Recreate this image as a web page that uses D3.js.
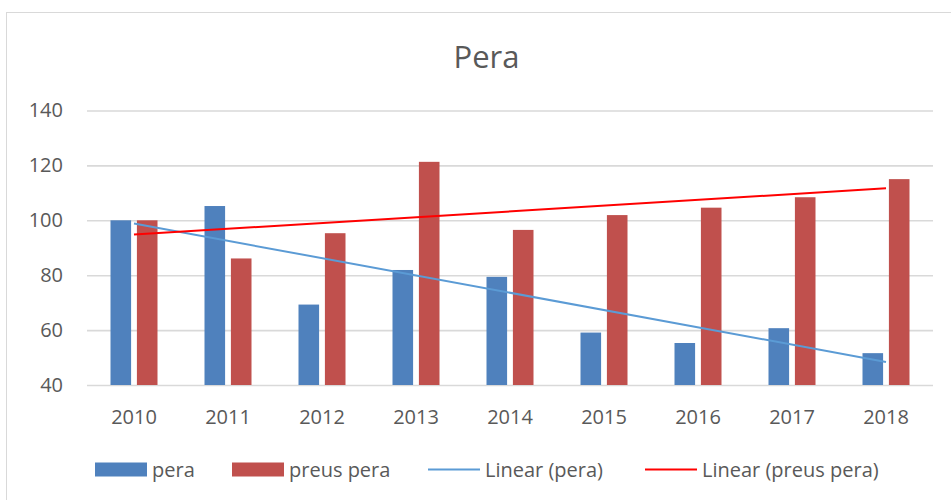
<!DOCTYPE html>
<head>
  <meta charset="utf-8">
  <script src="https://d3js.org/d3.v7.min.js"></script>
  <style>
    body { margin:0; background:#fff; }
    text { font-family: "Open Sans", sans-serif; fill:#595959; }
  </style>
</head>
<body>
<script>
  // data
  var years = ["2010","2011","2012","2013","2014","2015","2016","2017","2018"];
  var pera = [100, 105.2, 69.3, 81.9, 79.4, 59.1, 55.3, 60.7, 51.6];
  var preusPera = [100, 86.1, 95.3, 121.3, 96.5, 101.9, 104.6, 108.4, 115];
  var seriesNames = ["pera", "preus pera"];
  var yTicks = [40, 60, 80, 100, 120, 140];
  var legendLabels = ["pera", "preus pera", "Linear (pera)", "Linear (preus pera)"];

  var W = 951, H = 500;
  var colBlue = "#4f81bd", colRed = "#c0504d", trendBlue = "#5b9bd5", trendRed = "#ff0000";

  var svg = d3.select("body").append("svg")
    .attr("width", W).attr("height", H);

  // outer border
  svg.append("rect")
    .attr("x", 6.5).attr("y", 12.5)
    .attr("width", 1000).attr("height", 1000)
    .attr("fill", "none").attr("stroke", "#d9d9d9");

  svg.append("text")
    .attr("x", 486.5).attr("y", 67.5)
    .attr("text-anchor", "middle")
    .style("font-size", "31px")
    .text("Pera");

  var x0 = d3.scaleBand().domain(years).range([87, 933])
    .paddingInner(0.5).paddingOuter(0.25);
  var x1 = d3.scaleBand().domain(seriesNames).range([0, x0.bandwidth()])
    .paddingInner(0.22);
  var y = d3.scaleLinear().domain([40, 140]).range([385, 110.5]);

  // y axis + gridlines
  var yAxis = svg.append("g")
    .attr("transform", "translate(87,0)")
    .call(d3.axisLeft(y).tickValues(yTicks).tickSizeInner(-(933 - 87)).tickSizeOuter(0).tickPadding(24));
  yAxis.select(".domain").remove();
  yAxis.selectAll("line").attr("stroke", "#d9d9d9").attr("stroke-width", 1.6);
  yAxis.selectAll("text").style("font-size", "20px").attr("fill", "#595959");

  var xAxis = svg.append("g")
    .attr("transform", "translate(0,385)")
    .call(d3.axisBottom(x0).tickSize(0).tickPadding(25));
  xAxis.select(".domain").remove();
  xAxis.selectAll("text").style("font-size", "20px").attr("fill", "#595959");

  var rows = years.map(function(yr, i) {
    return {year: yr, values: [
      {key: "pera", v: pera[i], c: colBlue},
      {key: "preus pera", v: preusPera[i], c: colRed}
    ]};
  });

  svg.append("g").selectAll("g")
    .data(rows)
    .enter().append("g")
    .attr("transform", function(d) { return "translate(" + x0(d.year) + ",0)"; })
    .selectAll("rect")
    .data(function(d) { return d.values; })
    .enter().append("rect")
    .attr("x", function(d) { return x1(d.key); })
    .attr("width", x1.bandwidth())
    .attr("y", function(d) { return y(d.v); })
    .attr("height", function(d) { return y(40) - y(d.v); })
    .attr("fill", function(d) { return d.c; });

  // least squares trend line, x = 1..n
  function trend(vals) {
    var n = vals.length, mx = (n + 1) / 2, my = d3.mean(vals);
    var sxy = 0, sxx = 0;
    vals.forEach(function(v, i) { sxy += (i + 1 - mx) * (v - my); sxx += (i + 1 - mx) * (i + 1 - mx); });
    var b = sxy / sxx, a = my - b * mx;
    return vals.map(function(v, i) { return {year: years[i], v: a + b * (i + 1)}; });
  }

  var line = d3.line()
    .x(function(d) { return x0(d.year) + x0.bandwidth() / 2; })
    .y(function(d) { return y(d.v); });

  var t1 = trend(pera), t2 = trend(preusPera);
  svg.append("path").datum([t1[0], t1[t1.length - 1]])
    .attr("d", line).attr("fill", "none").attr("stroke", trendBlue).attr("stroke-width", 2);
  svg.append("path").datum([t2[0], t2[t2.length - 1]])
    .attr("d", line).attr("fill", "none").attr("stroke", trendRed).attr("stroke-width", 2);

  // legend
  var legX = [95, 232, 428, 645];
  var legend = svg.append("g").selectAll("g")
    .data(legendLabels)
    .enter().append("g")
    .attr("transform", function(d, i) { return "translate(" + legX[i] + ",469.5)"; });

  legend.each(function(d, i) {
    var g = d3.select(this);
    if (i < 2) {
      g.append("rect").attr("x", 0).attr("y", -7).attr("width", 52).attr("height", 14)
        .attr("fill", i == 0 ? colBlue : colRed);
    } else {
      g.append("line").attr("x1", 0).attr("x2", 52).attr("y1", 0).attr("y2", 0)
        .attr("stroke", i == 2 ? trendBlue : trendRed).attr("stroke-width", 2);
    }
    g.append("text").attr("x", 57).attr("y", 0).attr("dy", "0.35em")
      .style("font-size", "20px").text(d);
  });
</script>
</body>
